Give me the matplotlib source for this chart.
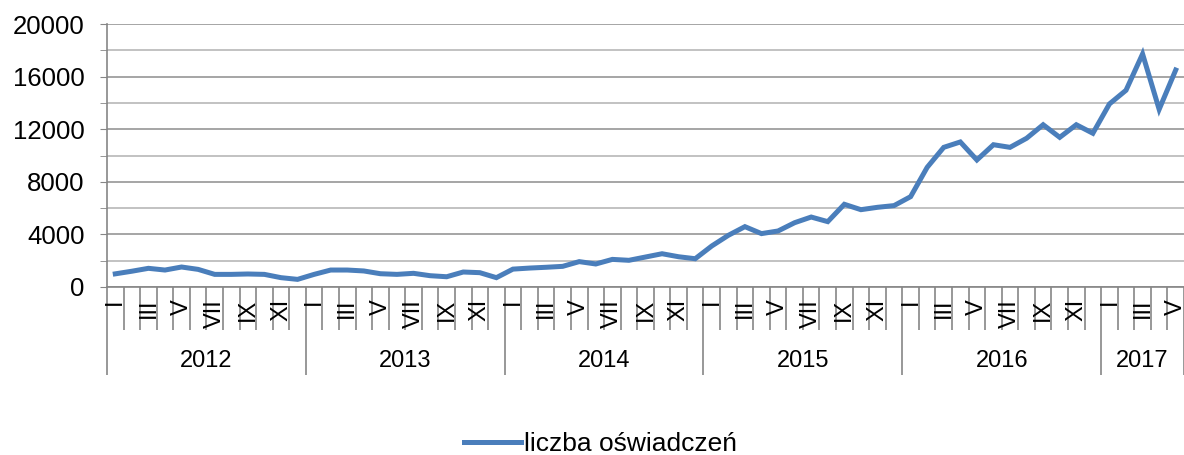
import matplotlib.pyplot as plt
from matplotlib.ticker import MultipleLocator

plt.rcParams['font.family'] = ['Liberation Sans', 'DejaVu Sans']

years = ["2012", "2013", "2014", "2015", "2016", "2017"]
months_per_year = [12, 12, 12, 12, 12, 5]
roman = ["I", "II", "III", "IV", "V", "VI", "VII", "VIII", "IX", "X", "XI", "XII"]

values = [
    1000, 1200, 1420, 1290, 1520, 1340, 960, 960, 990, 960, 710, 580,
    960, 1290, 1290, 1220, 1010, 960, 1040, 860, 780, 1140, 1090, 710,
    1360, 1440, 1500, 1570, 1930, 1750, 2100, 2030, 2280, 2530, 2300, 2150,
    3120, 3930, 4590, 4060, 4260, 4890, 5320, 4970, 6290, 5880, 6060, 6190,
    6870, 9100, 10620, 11030, 9660, 10820, 10620, 11310, 12340, 11380, 12340, 11690,
    13920, 14960, 17720, 13510, 16500,
]
series_label = "liczba oświadczeń"

fig = plt.figure(figsize=(11.84, 4.55), dpi=100)
ax = fig.add_axes([107 / 1184, 1 - 287 / 455, 1 - 107 / 1184, 263 / 455])

x = list(range(len(values)))
line, = ax.plot(x, values, color='#4A7EBB', linewidth=3.6, solid_joinstyle='miter',
                label=series_label, zorder=3)

ax.set_xlim(-0.5, len(values) - 0.5)
ax.set_ylim(0, 20000)

# y axis
ax.yaxis.set_major_locator(MultipleLocator(4000))
ax.yaxis.set_minor_locator(MultipleLocator(2000))
ax.tick_params(axis='y', which='both', direction='out', length=5, color='#868686',
               labelsize=18.5, pad=11)
ax.grid(axis='y', which='major', color='#969696', linewidth=1.2)
ax.grid(axis='y', which='minor', color='#b8b8b8', linewidth=1.2)
ax.set_axisbelow(True)

for s in ['top', 'right']:
    ax.spines[s].set_visible(False)
ax.spines['left'].set_color('#868686')
ax.spines['bottom'].set_color('#868686')
ax.spines['left'].set_linewidth(1.2)
ax.spines['bottom'].set_linewidth(1.2)

# x axis: month separators (minor) and year separators (major)
month_bounds = [i - 0.5 for i in range(len(values) + 1)]
year_bounds = [-0.5]
for n in months_per_year:
    year_bounds.append(year_bounds[-1] + n)
ax.set_xticks(year_bounds)
ax.set_xticks(month_bounds, minor=True)
ax.tick_params(axis='x', which='major', direction='out', length=63, color='#868686',
               width=1.2, labelbottom=False)
ax.tick_params(axis='x', which='minor', direction='out', length=31, color='#868686',
               width=1.2)
ax.xaxis.set_minor_formatter(plt.NullFormatter())

xt = ax.get_xaxis_transform()
i = 0
for yr, n in zip(years, months_per_year):
    for m in range(n):
        if m % 2 == 0:
            ax.text(i + m, -0.045, roman[m], rotation=90, ha='center', va='top',
                    fontsize=17, transform=xt)
    ax.text(i + (n - 1) / 2, -0.28, yr, ha='center', va='center', fontsize=17, transform=xt)
    i += n

fig.legend(handles=[line], labels=[series_label], loc='lower center',
           bbox_to_anchor=(0.507, -0.055), frameon=False, fontsize=19,
           handlelength=2.15, handletextpad=0.1)

fig.savefig("out.png", dpi=100)
